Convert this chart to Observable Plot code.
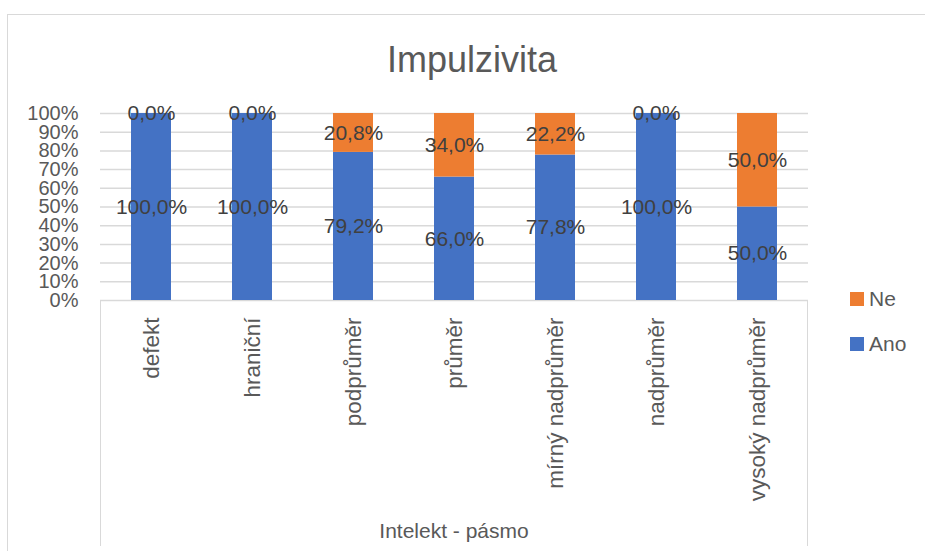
<!DOCTYPE html>
<html>
<head>
<meta charset="utf-8">
<script src="https://cdn.jsdelivr.net/npm/d3@7"></script>
<script src="https://cdn.jsdelivr.net/npm/@observablehq/plot@0.6"></script>
<style>
  html, body { margin: 0; padding: 0; background: #fff; }
  #wrap { position: relative; width: 925px; height: 551px; overflow: hidden; font-family: "Liberation Sans", Arial, sans-serif; }
  #border { position: absolute; left: 7px; top: 14px; width: 940px; height: 560px; border: 1.5px solid #d9d9d9; box-sizing: border-box; }
  #title { position: absolute; left: 0; width: 944px; top: 40px; text-align: center; font-size: 36px; line-height: 40px; color: #595959; }
  #chart { position: absolute; left: 0; top: 90px; }
  #catbox { position: absolute; left: 100px; top: 300px; width: 708px; height: 246px; border-left: 1.5px solid #d9d9d9; border-right: 1.5px solid #d9d9d9; box-sizing: border-box; }
  #xtitle { position: absolute; left: 100px; width: 708px; top: 518px; text-align: center; font-size: 21px; line-height: 26px; color: #595959; }
  #legend { position: absolute; left: 850px; top: 286px; font-size: 21px; color: #595959; }
  .li { display: flex; align-items: center; height: 26px; margin-bottom: 19px; }
  .sw { width: 14px; height: 14px; margin-right: 5px; }
  #chart svg g[aria-label="x-axis tick label"] text { font-size: 22.5px; }
  #chart svg g[aria-label="y-axis tick label"] text { font-size: 20px; }
</style>
</head>
<body>
<div id="wrap">
  <div id="border"></div>
  <div id="title">Impulzivita</div>
  <div id="catbox"></div>
  <div id="chart"></div>
  <div id="xtitle">Intelekt - pásmo</div>
  <div id="legend"></div>
</div>
<script>
// Data
const categories = ["defekt", "hraniční", "podprůměr", "průměr", "mírný nadprůměr", "nadprůměr", "vysoký nadprůměr"];
const series = ["Ano", "Ne"];
const anoValues = [100.0, 100.0, 79.2, 66.0, 77.8, 100.0, 50.0];
const neValues = [0.0, 0.0, 20.8, 34.0, 22.2, 0.0, 50.0];
const yTicks = [0, 0.1, 0.2, 0.3, 0.4, 0.5, 0.6, 0.7, 0.8, 0.9, 1.0];
const colors = ["#4472C4", "#ED7D31"];
const xTitle = "Intelekt - pásmo";

const rows = [];
categories.forEach((c, i) => {
  rows.push({category: c, series: "Ano", value: anoValues[i] / 100});
  rows.push({category: c, series: "Ne", value: neValues[i] / 100});
});

const fmt = v => (v * 100).toFixed(1).replace(".", ",") + "%";

const plot = Plot.plot({
  width: 925,
  height: 461,
  marginTop: 23,
  marginBottom: 251,
  marginLeft: 100,
  marginRight: 117,
  style: {fontFamily: "'Liberation Sans', Arial, sans-serif", fontSize: "21px", color: "#595959", background: "transparent", overflow: "visible"},
  x: {domain: categories, paddingInner: 0.6, paddingOuter: 0.3, label: null, tickSize: 0, tickPadding: 17, tickRotate: -90},
  y: {domain: [0, 1], ticks: yTicks, tickFormat: d3.format(".0%"), label: null, tickSize: 0, tickPadding: 22},
  color: {domain: series, range: colors},
  marks: [
    Plot.ruleY(yTicks, {stroke: "#d9d9d9", strokeWidth: 1.5}),
    Plot.barY(rows, {x: "category", y: "value", fill: "series", order: series}),
    Plot.text(rows, Plot.stackY({x: "category", y: "value", z: "series", order: series, text: d => fmt(d.value), fill: "#404040", fontSize: 21}))
  ]
});
document.getElementById("chart").appendChild(plot);

const legend = document.getElementById("legend");
[["Ne", colors[1]], ["Ano", colors[0]]].forEach(([name, col]) => {
  const li = document.createElement("div");
  li.className = "li";
  li.innerHTML = `<div class="sw" style="background:${col}"></div><span>${name}</span>`;
  legend.appendChild(li);
});
document.getElementById("xtitle").textContent = xTitle;
</script>
</body>
</html>
